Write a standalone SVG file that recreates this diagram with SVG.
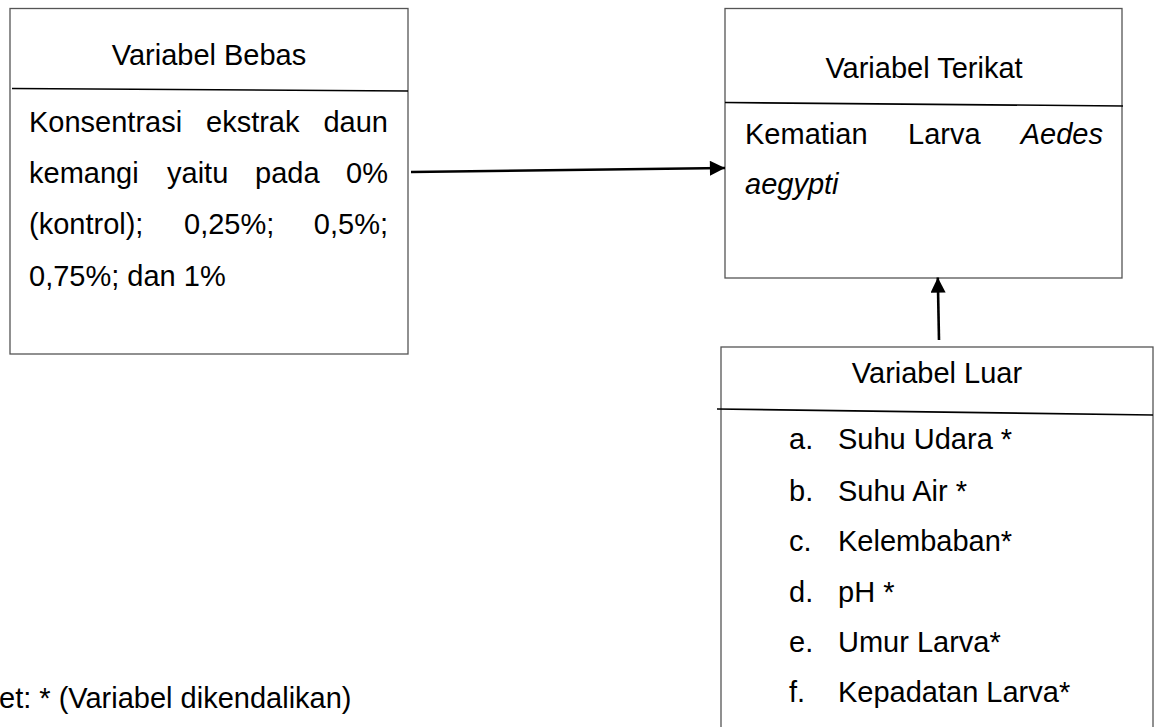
<svg xmlns="http://www.w3.org/2000/svg" width="1160" height="727" viewBox="0 0 1160 727">
<defs>
<style>
.box{fill:#fff;stroke:#555;stroke-width:1.3}
.div{stroke:#000;stroke-width:1.6;fill:none}
text{font-family:"Liberation Sans",Arial,sans-serif;font-size:29px;fill:#000}
.t{text-anchor:middle}
.e{text-anchor:end}
.i{font-style:italic}
.con{stroke:#000;stroke-width:2.6;fill:none}
</style>
<marker id="ah" viewBox="0 0 10 10" refX="10" refY="5" markerWidth="6.2" markerHeight="5.8" markerUnits="strokeWidth" orient="auto">
<path d="M0,0 L10,5 L0,10 Z" fill="#000"/>
</marker>
</defs>
<rect width="1160" height="727" fill="#fff"/>

<g id="bebas">
<rect class="box" x="10" y="8.5" width="398" height="345.5"/>
<line class="div" x1="12" y1="88.5" x2="408" y2="91"/>
<text class="t" x="209" y="65">Variabel Bebas</text>
<text x="29" y="132">Konsentrasi</text><text x="206" y="132">ekstrak</text><text class="e" x="388" y="132">daun</text>
<text x="29" y="183">kemangi</text><text x="167" y="183">yaitu</text><text x="255" y="183">pada</text><text class="e" x="388" y="183">0%</text>
<text x="29" y="234">(kontrol);</text><text x="184" y="234">0,25%;</text><text class="e" x="388" y="234">0,5%;</text>
<text x="29" y="286">0,75%; dan 1%</text>
</g>

<g id="terikat">
<rect class="box" x="725" y="8.5" width="397" height="269.5"/>
<line class="div" x1="725" y1="102.5" x2="1123" y2="106"/>
<text class="t" x="924" y="78">Variabel Terikat</text>
<text x="745" y="144">Kematian</text><text x="908" y="144">Larva</text><text class="e i" x="1103" y="144">Aedes</text>
<text class="i" x="745" y="194">aegypti</text>
</g>

<g id="luar">
<rect class="box" x="721" y="347" width="432" height="390"/>
<line class="div" x1="717" y1="409" x2="1153" y2="415"/>
<text class="t" x="937" y="383">Variabel Luar</text>
<text x="789" y="449">a.</text><text x="838" y="449">Suhu Udara *</text>
<text x="789" y="501">b.</text><text x="838" y="501">Suhu Air *</text>
<text x="789" y="551">c.</text><text x="838" y="551">Kelembaban*</text>
<text x="789" y="602">d.</text><text x="838" y="602">pH *</text>
<text x="789" y="652">e.</text><text x="838" y="652">Umur Larva*</text>
<text x="789" y="702">f.</text><text x="838" y="702">Kepadatan Larva*</text>
</g>

<g id="ket">
<text x="-1" y="708">et: * (Variabel dikendalikan)</text>
</g>

<g id="connectors">
<path class="con" d="M411,172 L725,168" marker-end="url(#ah)"/>
<path class="con" d="M939,340 L937.8,277.5" marker-end="url(#ah)"/>
</g>
</svg>
